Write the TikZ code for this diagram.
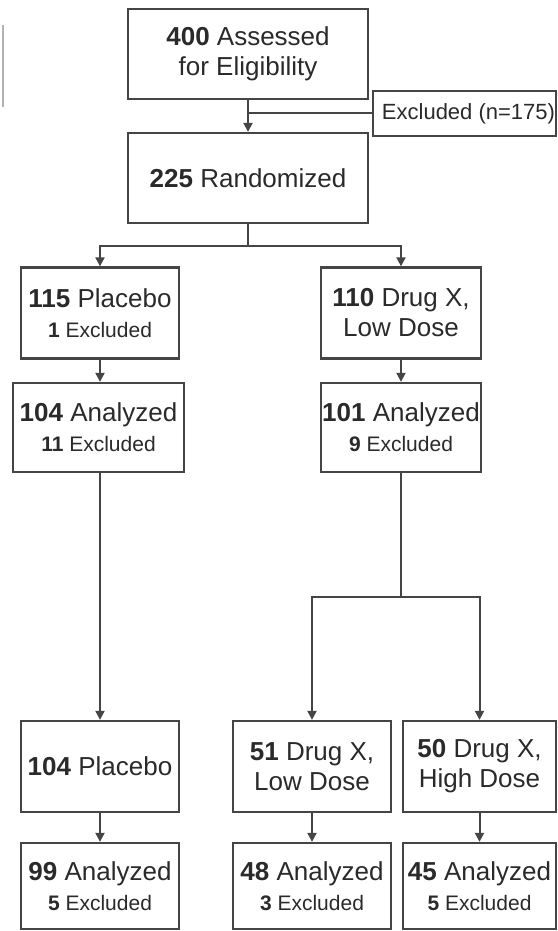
\documentclass[tikz,border=0pt]{standalone}
\usepackage{fontspec}
\setmainfont{Liberation Sans}
\usetikzlibrary{arrows.meta}
\definecolor{ln}{HTML}{454545}
\definecolor{tx}{HTML}{2A2A2A}
\newcommand{\sm}[1]{{\fontsize{21}{26}\selectfont #1}}
\begin{document}
\begin{tikzpicture}[x=1pt,y=-1pt,
  box/.style={draw=ln, line width=2.3pt, fill=white, inner sep=0pt, align=center,
    text=tx, font=\fontsize{26}{30}\selectfont},
  conn/.style={draw=ln, line width=2pt},
  arr/.style={conn, -{Triangle[length=9pt,width=9pt]}}]
\useasboundingbox[fill=white] (0,0) rectangle (557,931);
% fragment at left edge
\draw[gray!60, line width=1.5pt] (3,25) -- (3,107);
% nodes
\node[box, minimum width=240pt, minimum height=90pt] (n400) at (248,54) {\textbf{400} Assessed\\for Eligibility};
\node[box, minimum width=183pt, minimum height=45pt, font=\fontsize{22}{26}\selectfont] (excl) at (464.5,113.5) {\hspace*{8pt}Excluded (n=175)};
\node[box, minimum width=240pt, minimum height=90pt] (rand) at (248,178) {\textbf{225} Randomized};
\node[box, minimum width=158pt, minimum height=91pt] (p115) at (100,313) {\textbf{115} Placebo\\\sm{\textbf{1} Excluded}};
\node[box, minimum width=160pt, minimum height=91pt] (d110) at (401,313) {\textbf{110} Drug X,\\Low Dose};
\node[box, minimum width=171pt, minimum height=89pt] (a104) at (98.5,427.5) {\textbf{104} Analyzed\\\sm{\textbf{11} Excluded}};
\node[box, minimum width=160pt, minimum height=89pt] (a101) at (401,427.5) {\textbf{101} Analyzed\\\sm{\textbf{9} Excluded}};
\node[box, minimum width=158pt, minimum height=91pt] (p104) at (100,766.5) {\textbf{104} Placebo};
\node[box, minimum width=158pt, minimum height=91pt] (d51) at (312,766.5) {\textbf{51} Drug X,\\Low Dose};
\node[box, minimum width=153pt, minimum height=91pt] (d50) at (479.5,766.5) {\textbf{50} Drug X,\\High Dose};
\node[box, minimum width=158pt, minimum height=86pt] (a99) at (100,886) {\textbf{99} Analyzed\\\sm{\textbf{5} Excluded}};
\node[box, minimum width=158pt, minimum height=86pt] (a48) at (312,886) {\textbf{48} Analyzed\\\sm{\textbf{3} Excluded}};
\node[box, minimum width=153pt, minimum height=86pt] (a45) at (479.5,886) {\textbf{45} Analyzed\\\sm{\textbf{5} Excluded}};
% junctions
\coordinate (j1) at (248,113.5);
\coordinate (j2) at (248,246);
\coordinate (j3) at (401,597);
% connectors
\draw[arr] (n400.south) -- (rand.north);
\draw[conn] (j1) -- (excl.west);
\draw[conn] (rand.south) -- (j2);
\draw[arr] (j2) -| (p115.north);
\draw[arr] (j2) -| (d110.north);
\draw[arr] (p115.south) -- (p115.south |- a104.north);
\draw[arr] (d110.south) -- (a101.north);
\draw[arr] (a104.south -| p104.north) -- (p104.north);
\draw[conn] (a101.south) -- (j3);
\draw[arr] (j3) -| (d51.north);
\draw[arr] (j3) -| (d50.north);
\draw[arr] (p104.south) -- (a99.north);
\draw[arr] (d51.south) -- (a48.north);
\draw[arr] (d50.south) -- (a45.north);
\end{tikzpicture}
\end{document}
